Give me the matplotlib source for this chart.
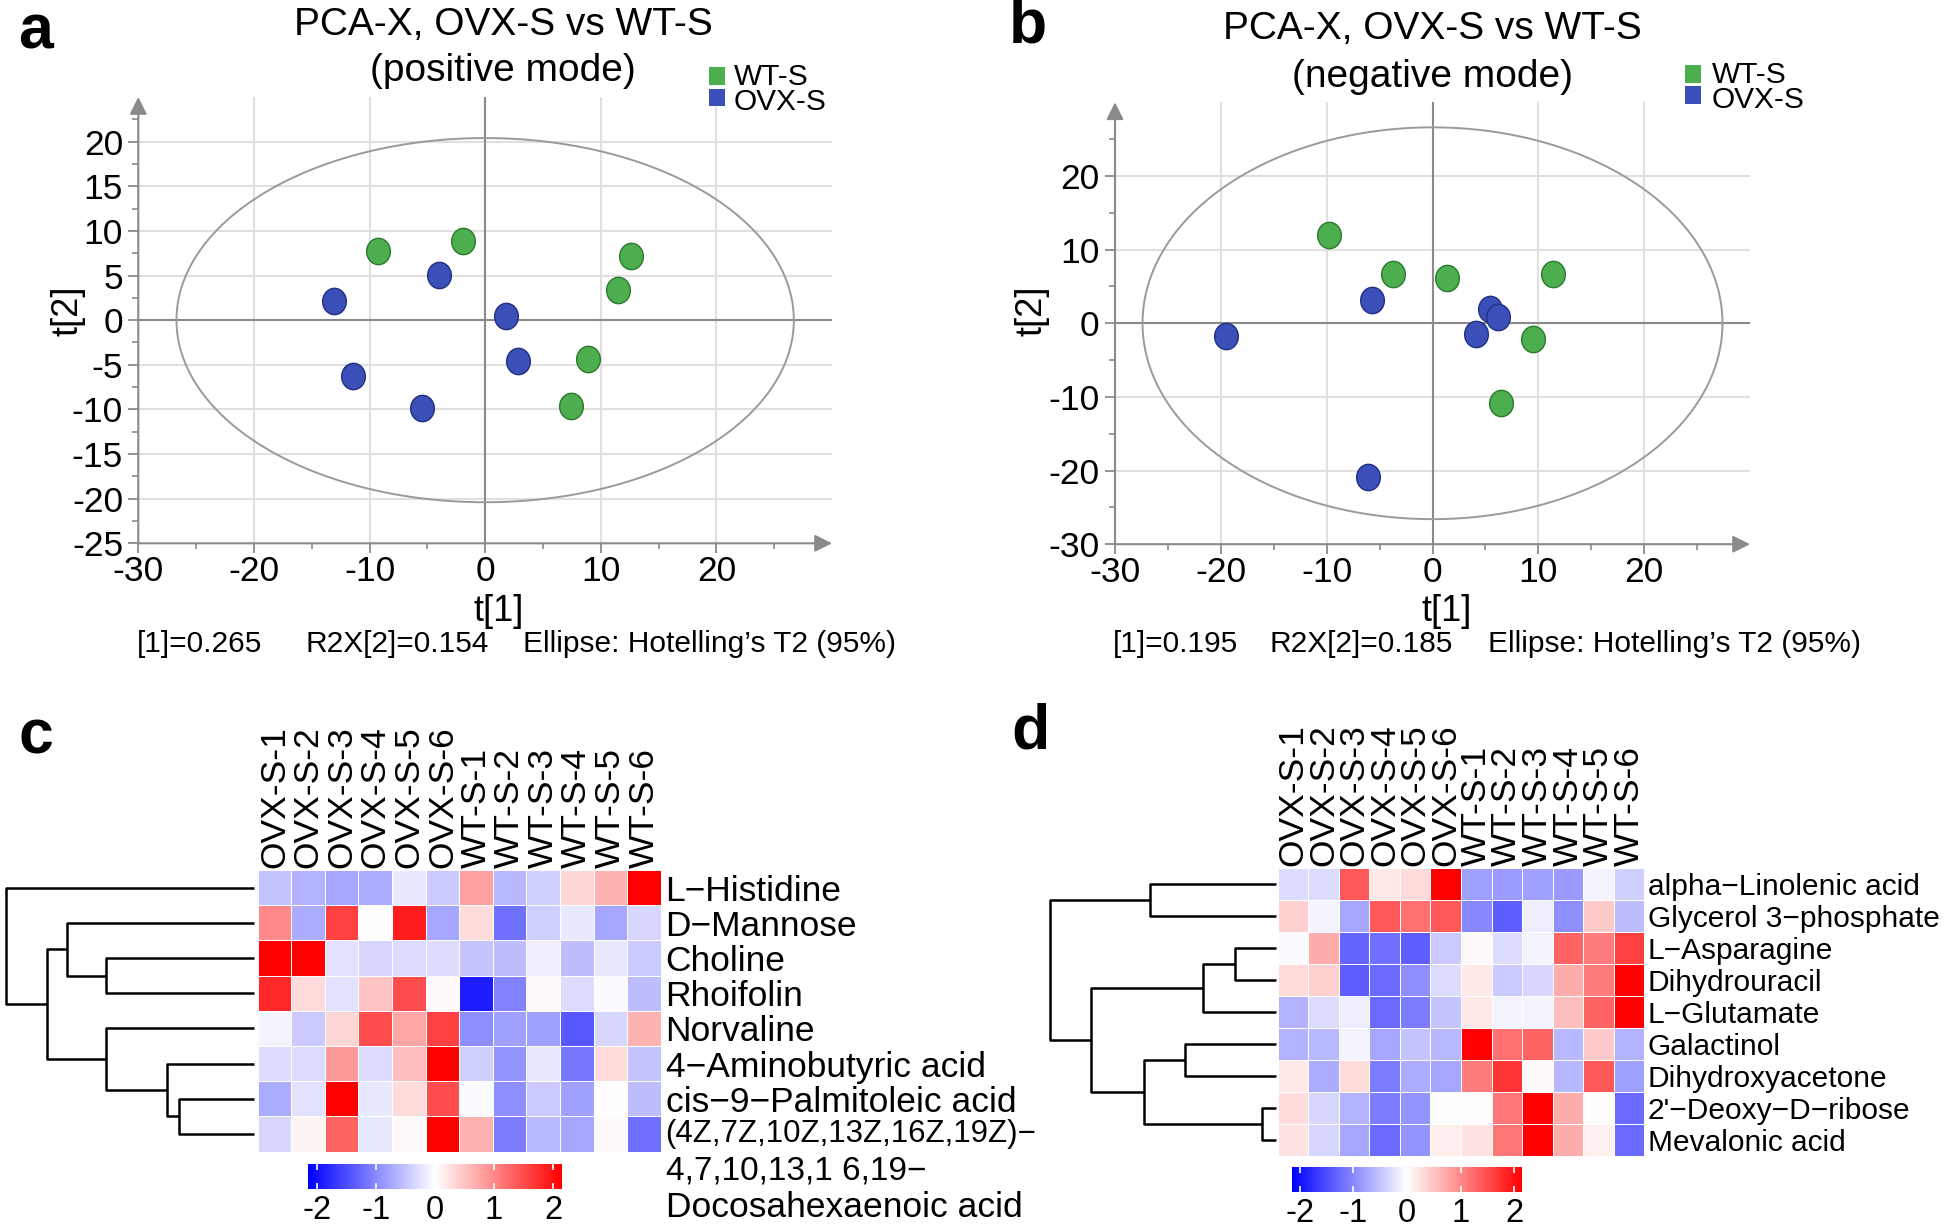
import numpy as np
import matplotlib
matplotlib.use('Agg')
import matplotlib.pyplot as plt
from matplotlib.path import Path
from matplotlib.markers import MarkerStyle
from matplotlib.transforms import Affine2D
from matplotlib.colors import LinearSegmentedColormap, Normalize
from matplotlib.patches import Rectangle

plt.rcParams['font.family'] = ['Liberation Sans', 'DejaVu Sans']
plt.rcParams['axes.unicode_minus'] = False

# ---------------- data ----------------
groups = ['WT-S', 'OVX-S']
# panel a (positive mode)
pos_wt_t1 = [-9.3, -1.9, 12.6, 11.5, 8.9, 7.4]
pos_wt_t2 = [7.7, 8.9, 7.2, 3.4, -4.4, -9.6]
pos_ovx_t1 = [-4.0, -13.1, 1.8, 2.8, -11.4, -5.5]
pos_ovx_t2 = [5.1, 2.1, 0.5, -4.6, -6.3, -9.8]
pos_ellipse = (26.7, 20.4)
pos_stats = ['[1]=0.265', 'R2X[2]=0.154', 'Ellipse: Hotelling\u2019s T2 (95%)']
# panel b (negative mode)
neg_wt_t1 = [-9.8, -3.7, 1.4, 11.4, 9.5, 6.5]
neg_wt_t2 = [12.0, 6.75, 6.1, 6.75, -2.1, -10.8]
neg_ovx_t1 = [-5.7, -19.5, 5.4, 6.2, 4.1, -6.1]
neg_ovx_t2 = [3.15, -1.75, 1.9, 0.8, -1.5, -20.9]
neg_ellipse = (27.4, 26.6)
neg_stats = ['[1]=0.195', 'R2X[2]=0.185', 'Ellipse: Hotelling\u2019s T2 (95%)']

samples = ['OVX-S-1', 'OVX-S-2', 'OVX-S-3', 'OVX-S-4', 'OVX-S-5', 'OVX-S-6',
           'WT-S-1', 'WT-S-2', 'WT-S-3', 'WT-S-4', 'WT-S-5', 'WT-S-6']

# panel c heatmap
c_rows = ['L\u2212Histidine', 'D\u2212Mannose', 'Choline', 'Rhoifolin', 'Norvaline',
          '4\u2212Aminobutyric acid', 'cis\u22129\u2212Palmitoleic acid', '']
c_last_lines = ['(4Z,7Z,10Z,13Z,16Z,19Z)\u2212', '4,7,10,13,1 6,19\u2212',
                'Docosahexaenoic acid']
c_vals = [
    [-0.5, -0.65, -0.75, -0.7, -0.2, -0.45, 0.8, -0.6, -0.4, 0.35, 0.65, 2.15],
    [1.0, -0.7, 1.6, 0.0, 1.9, -0.75, 0.3, -1.2, -0.4, -0.2, -0.75, -0.35],
    [2.15, 2.15, -0.25, -0.35, -0.3, -0.3, -0.5, -0.55, -0.15, -0.55, -0.2, -0.45],
    [1.8, 0.3, -0.25, 0.5, 1.5, 0.05, -1.9, -1.05, 0.05, -0.3, -0.05, -0.55],
    [-0.1, -0.45, 0.35, 1.5, 0.75, 1.6, -0.95, -0.8, -0.8, -1.4, -0.35, 0.65],
    [-0.3, -0.3, 0.85, -0.3, 0.55, 2.15, -0.4, -0.9, -0.2, -1.15, 0.3, -0.5],
    [-0.7, -0.25, 2.15, -0.2, 0.3, 1.5, -0.05, -0.95, -0.45, -0.8, 0.0, -0.55],
    [-0.35, 0.1, 1.3, -0.2, 0.05, 2.15, 0.65, -1.1, -0.6, -0.75, 0.05, -1.2],
]
# merges: (child a, child b, height) ; leaves 0..n-1
c_merges = [(2, 3, 0.598), (6, 7, 0.304), (5, 9, 0.354), (4, 10, 0.598),
            (1, 8, 0.756), (12, 11, 0.836), (0, 13, 1.0)]

# panel d heatmap
d_rows = ['alpha\u2212Linolenic acid', 'Glycerol 3\u2212phosphate', 'L\u2212Asparagine',
          'Dihydrouracil', 'L\u2212Glutamate', 'Galactinol', 'Dihydroxyacetone',
          '2\'\u2212Deoxy\u2212D\u2212ribose', 'Mevalonic acid']
d_vals = [
    [-0.3, -0.3, 1.4, 0.2, 0.3, 2.15, -0.8, -0.85, -0.8, -0.85, -0.1, -0.4],
    [0.4, -0.1, -0.75, 1.4, 1.2, 1.4, -1.0, -1.35, -0.15, -0.95, 0.45, -0.55],
    [-0.05, 0.7, -1.3, -1.2, -1.35, -0.45, 0.05, -0.3, -0.1, 1.3, 1.1, 1.6],
    [0.3, 0.4, -1.35, -1.25, -0.95, -0.3, 0.2, -0.45, -0.35, 0.7, 1.1, 2.15],
    [-0.65, -0.3, -0.15, -1.25, -1.1, -0.5, 0.2, -0.1, -0.1, 0.55, 1.3, 2.15],
    [-0.65, -0.6, -0.1, -0.75, -0.5, -0.6, 2.15, 1.2, 1.3, -0.6, 0.45, -0.65],
    [0.2, -0.7, 0.3, -1.1, -0.7, -0.75, 1.1, 1.7, 0.05, -0.6, 1.4, -0.8],
    [0.3, -0.35, -0.65, -1.1, -0.9, 0.0, 0.02, 1.15, 2.15, 0.7, 0.02, -1.25],
    [0.25, -0.35, -0.75, -1.25, -0.9, 0.15, 0.25, 1.15, 2.15, 0.7, 0.12, -1.25],
]
d_merges = [(0, 1, 0.558), (2, 3, 0.180), (10, 4, 0.323), (5, 6, 0.400),
            (7, 8, 0.061), (12, 13, 0.581), (11, 14, 0.815), (9, 15, 1.0)]

cbar_ticks = [-2, -1, 0, 1, 2]

# ---------------- figure ----------------
W, H = 1946, 1229
fig = plt.figure(figsize=(W / 100, H / 100), dpi=100)


def ax_px(x0, y0, x1, y1):
    return fig.add_axes([x0 / W, 1 - y1 / H, (x1 - x0) / W, (y1 - y0) / H])


def ftext(x, y, s, **kw):
    fig.text(x / W, 1 - y / H, s, **kw)


AXC = '#8a8a8a'
GRIDC = '#e0e0e0'
GREEN, GREEN_E = '#4cae4f', '#2a7a2c'
BLUE, BLUE_E = '#3b4fb8', '#232f80'

ell_path = Path.unit_circle().transformed(Affine2D().scale(0.9, 1.0))
ell_marker = MarkerStyle(ell_path)


def pca_panel(box, xlim, ylim, xmaj, xmin, ymaj, ymin, xgrid, ygrid, ell,
              wt, ovx):
    ax = ax_px(*box)
    ax.set_xlim(xlim)
    ax.set_ylim(ylim)
    for s in ax.spines.values():
        s.set_visible(False)
    for gx in xgrid:
        ax.axvline(gx, color=GRIDC, lw=1.5, zorder=0)
    for gy in ygrid:
        ax.axhline(gy, color=GRIDC, lw=1.5, zorder=0)
    ax.axhline(0, color=AXC, lw=1.5, zorder=1)
    ax.axvline(0, color=AXC, lw=1.5, zorder=1)
    t = np.linspace(0, 2 * np.pi, 400)
    ax.plot(ell[0] * np.cos(t), ell[1] * np.sin(t), color='#9a9a9a', lw=1.4, zorder=2)
    ax.scatter(wt[0], wt[1], s=360, marker=ell_marker, facecolor=GREEN,
               edgecolor=GREEN_E, linewidth=1.0, zorder=4)
    ax.scatter(ovx[0], ovx[1], s=360, marker=ell_marker, facecolor=BLUE,
               edgecolor=BLUE_E, linewidth=1.0, zorder=4)
    # axis arrows
    for end in [(1, 0), (0, 1)]:
        ax.annotate('', xy=end, xytext=(0, 0), xycoords='axes fraction',
                    arrowprops=dict(arrowstyle='-|>', color=AXC, lw=1.5,
                                    mutation_scale=26, shrinkA=0, shrinkB=0),
                    annotation_clip=False)
    ax.set_xticks(xmaj)
    ax.set_xticks(xmin, minor=True)
    ax.set_yticks(ymaj)
    ax.set_yticks(ymin, minor=True)
    ax.set_xticklabels([str(v) for v in xmaj])
    ax.set_yticklabels([str(v) for v in ymaj])
    ax.tick_params(which='major', length=7, width=1.3, color=AXC, labelsize=25.5)
    ax.tick_params(which='minor', length=4, width=1.2, color=AXC)
    ax.tick_params(axis='x', which='major', pad=1.5)
    ax.tick_params(axis='y', which='major', pad=4)
    return ax


# panel a
axa = pca_panel((138.3, 97, 832, 543.3), (-30, 30), (-25, 25),
                [-30, -20, -10, 0, 10, 20], [-25, -15, -5, 5, 15, 25],
                [-25, -20, -15, -10, -5, 0, 5, 10, 15, 20],
                np.arange(-25, 25, 2.5),
                [-20, -10, 10, 20], [-20, -15, -10, -5, 5, 10, 15, 20],
                pos_ellipse, (pos_wt_t1, pos_wt_t2), (pos_ovx_t1, pos_ovx_t2))
# panel b
axb = pca_panel((1115, 102.3, 1750, 544.2), (-30, 30), (-30, 30),
                [-30, -20, -10, 0, 10, 20], [-25, -15, -5, 5, 15, 25],
                [-30, -20, -10, 0, 10, 20],
                np.arange(-25, 30, 5),
                [-20, -10, 10, 20], [-20, -10, 10, 20],
                neg_ellipse, (neg_wt_t1, neg_wt_t2), (neg_ovx_t1, neg_ovx_t2))

# titles / labels for PCA panels
for (cx, y1, y2, mode) in [(503, 25, 71, '(positive mode)'), (1432, 29, 77, '(negative mode)')]:
    ftext(cx, y1, 'PCA-X, OVX-S vs WT-S', fontsize=28, ha='center', va='center')
    ftext(cx, y2, mode, fontsize=28, ha='center', va='center')

ftext(499, 611, 't[1]', fontsize=26, ha='center', va='center')
ftext(1447, 611, 't[1]', fontsize=26, ha='center', va='center')
ftext(68, 311, 't[2]', fontsize=26, ha='center', va='center', rotation=90)
ftext(1032, 311, 't[2]', fontsize=26, ha='center', va='center', rotation=90)

for xs, stats in [((137, 306, 523), pos_stats), ((1113, 1270, 1488), neg_stats)]:
    for x, s in zip(xs, stats):
        ftext(x, 644, s, fontsize=21.5, ha='left', va='center')

# legends
for (sx, tx, ys, yt) in [(717, 734, (76, 97.5), (77, 101.5)),
                         (1693, 1712, (74, 95), (75, 100))]:
    for col, yy, yt_, lab in [(GREEN, ys[0], yt[0], groups[0]),
                              (BLUE, ys[1], yt[1], groups[1])]:
        fig.patches.append(Rectangle(((sx - 8) / W, 1 - (yy + 8.5) / H), 16 / W, 17 / H,
                                     transform=fig.transFigure, facecolor=col,
                                     edgecolor='none'))
        ftext(tx, yt_, lab, fontsize=21.5, ha='left', va='center')

# panel letters
for (x, y, s) in [(36, 32, 'a'), (1028, 26, 'b'), (36, 737, 'c'), (1030, 732, 'd')]:
    ftext(x, y, s, fontsize=45, fontweight='bold', ha='center', va='center')

# ---------------- heatmaps ----------------
cmap = LinearSegmentedColormap.from_list('bwr_r', ['#0000ff', '#ffffff', '#ff0000'])
norm = Normalize(vmin=-2.15, vmax=2.15)


def heatmap(box, vals, rows, rowfs, rowpad, cbar_box):
    vals = np.array(vals)
    ax = ax_px(*box)
    n, m = vals.shape
    mesh = ax.pcolormesh(np.arange(m + 1), np.arange(n + 1), vals, cmap=cmap,
                         norm=norm, edgecolors='#ffffff', linewidth=0.4)
    ax.set_xlim(0, m)
    ax.set_ylim(n, 0)
    ax.xaxis.tick_top()
    ax.set_xticks(np.arange(m) + 0.5)
    ax.set_xticklabels(samples, rotation=90, fontsize=25.5)
    ax.yaxis.tick_right()
    ax.set_yticks(np.arange(n) + 0.5)
    ax.set_yticklabels(rows, fontsize=rowfs)
    ax.tick_params(axis='x', length=0, pad=1.5)
    ax.tick_params(axis='y', length=0, pad=rowpad)
    for s in ax.spines.values():
        s.set_visible(False)
    cax = ax_px(*cbar_box)
    cb = fig.colorbar(mesh, cax=cax, orientation='horizontal', ticks=cbar_ticks)
    cb.outline.set_visible(False)
    cax.set_xticklabels([str(t) for t in cbar_ticks])
    cax.tick_params(which='major', direction='in', color='white', length=4,
                    width=1.2, top=True, bottom=True, labelsize=23.5, pad=4)
    cax.tick_params(which='minor', length=0)
    return ax


def dendro(box, merges, n):
    ax = ax_px(*box)
    pos = {i: i + 0.5 for i in range(n)}
    hgt = {i: 0.0 for i in range(n)}
    for k, (a, b, h) in enumerate(merges):
        ya, yb = pos[a], pos[b]
        ax.plot([hgt[a], h, h, hgt[b]], [ya, ya, yb, yb], color='black', lw=1.8,
                solid_capstyle='butt', clip_on=False)
        pos[n + k] = (ya + yb) / 2
        hgt[n + k] = h
    ax.set_ylim(n, 0)
    ax.set_xlim(max(hgt.values()), 0)
    ax.axis('off')
    return ax


axc = heatmap((257.7, 870, 660.7, 1151.7), c_vals, c_rows, 25.5, 3.5,
              (308, 1164, 562, 1189))
# three-line label of the last row (narrower digit lines as in the reference)
for i, (line, fs) in enumerate(zip(c_last_lines, [22.5, 24, 25.5])):
    axc.annotate(line, xy=(1, len(c_rows) - 0.5), xycoords=('axes fraction', 'data'),
                 xytext=(3.5, -i * 26.5), textcoords='offset points',
                 ha='left', va='center', fontsize=fs)
dendro((6.2, 870, 254.5, 1151.7), c_merges, len(c_rows))

axd = heatmap((1277.7, 868, 1644.3, 1156.3), d_vals, d_rows, 21.5, 2.5,
              (1291.7, 1167, 1522.3, 1192))
dendro((1049.7, 868, 1275.6, 1156.3), d_merges, len(d_rows))

fig.savefig('out.png', dpi=100)
